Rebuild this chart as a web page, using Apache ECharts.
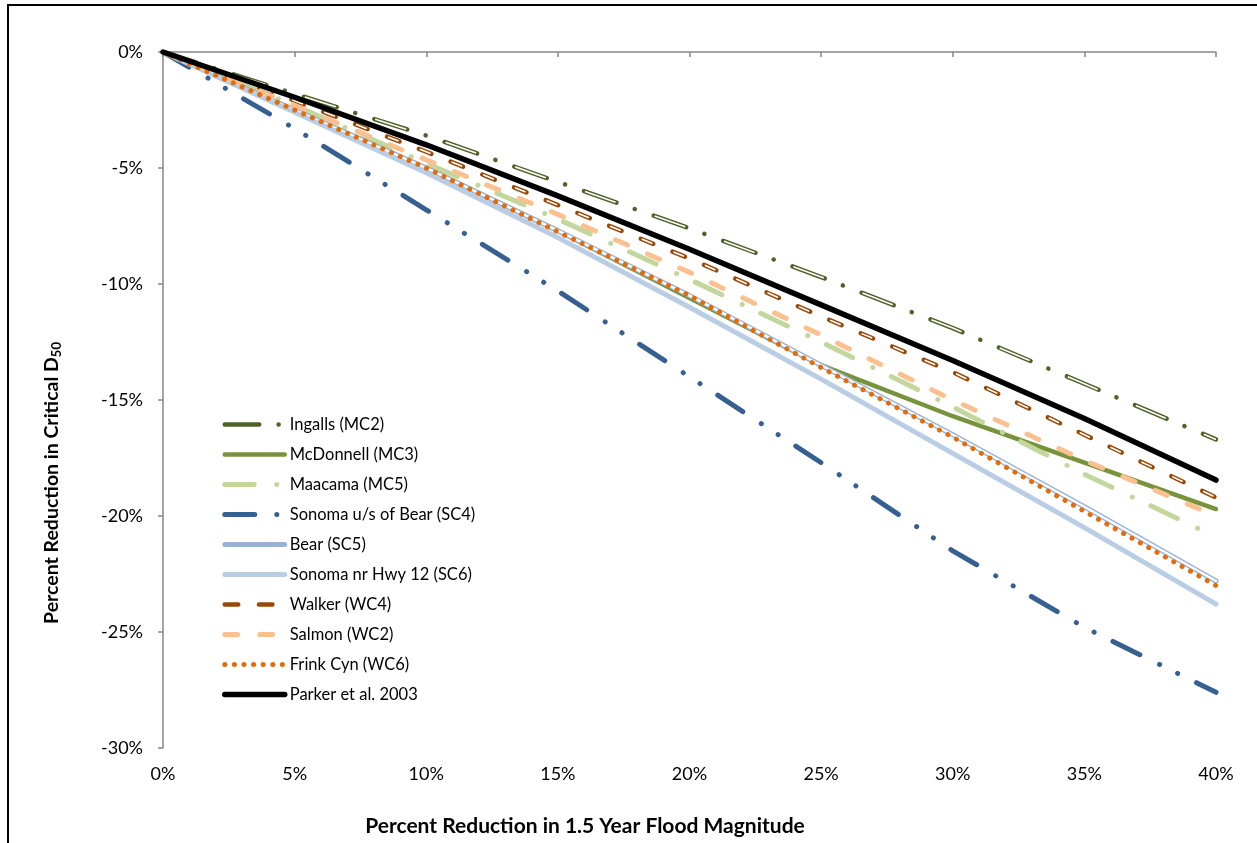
<!DOCTYPE html>
<html>
<head>
<meta charset="utf-8">
<script src="https://cdn.jsdelivr.net/npm/echarts@6/dist/echarts.min.js"></script>
<style>
html,body{margin:0;padding:0;background:#fff;}
#chart{width:1257px;height:843px;}
</style>
</head>
<body>
<div id="chart"></div>
<script>
// ---- Data ----
const xValues = [0, 5, 10, 15, 20, 25, 30, 35, 40];
const ingalls    = [0, -1.8, -3.6, -5.6, -7.6, -9.7, -11.9, -14.3, -16.7];
const mcdonnell  = [0, -2.5, -5.0, -7.7, -10.6, -13.5, -15.7, -17.7, -19.7];
const maacama    = [0, -2.3, -4.8, -7.2, -9.8, -12.5, -15.3, -18.2, -20.9];
const sonomaUs   = [0, -3.3, -6.8, -10.3, -14.0, -17.7, -21.5, -24.8, -27.6];
const bear       = [0, -2.5, -5.0, -7.7, -10.5, -13.5, -16.5, -19.6, -22.8];
const sonomaHwy  = [0, -2.6, -5.2, -8.0, -11.0, -14.1, -17.3, -20.5, -23.8];
const walker     = [0, -2.1, -4.3, -6.6, -8.9, -11.4, -13.8, -16.5, -19.2];
const salmon     = [0, -2.3, -4.65, -7.0, -9.5, -12.2, -15.0, -17.6, -20.0];
const frink      = [0, -2.5, -5.0, -7.75, -10.5, -13.6, -16.6, -19.8, -23.0];
const parker     = [0, -1.95, -4.0, -6.2, -8.5, -10.9, -13.3, -15.8, -18.45];
const seriesNames = ['Ingalls (MC2)', 'McDonnell (MC3)', 'Maacama (MC5)', 'Sonoma u/s of Bear (SC4)',
  'Bear (SC5)', 'Sonoma nr Hwy 12 (SC6)', 'Walker (WC4)', 'Salmon (WC2)', 'Frink Cyn (WC6)', 'Parker et al. 2003'];
const xTicks = [0, 5, 10, 15, 20, 25, 30, 35, 40];
const yTicks = [0, -5, -10, -15, -20, -25, -30];

const FONT = 'Lato, "Open Sans", sans-serif';
function pts(vals) { return xValues.map((x, i) => [x, vals[i]]); }
function line(name, vals, ls, z) {
  return {
    name: name, type: 'line', data: pts(vals), symbol: 'none', z: z,
    lineStyle: Object.assign({ cap: 'round', join: 'round' }, ls),
    itemStyle: { color: ls.color },
    emphasis: { disabled: true }, silent: true, animation: false
  };
}

const series = [
  line(seriesNames[0], ingalls, { color: '#4F6228', width: 4.5, type: [34.5, 19.3, 0.1, 20] }, 2),
  line('_ingIn', ingalls, { color: '#ffffff', width: 1.6, type: [32.5, 41.4], dashOffset: -1, cap: 'butt' }, 2),
  line(seriesNames[1], mcdonnell, { color: '#77933C', width: 4.5 }, 2),
  line(seriesNames[2], maacama, { color: '#C3D69B', width: 5, type: [29.4, 22.5, 0.1, 20.5] }, 2),
  line(seriesNames[3], sonomaUs, { color: '#376092', width: 5, type: [30, 22, 0.1, 20, 0.1, 21] }, 2),
  line(seriesNames[4], bear, { color: '#95B3D7', width: 5 }, 2),
  line('_bearIn', bear, { color: '#ffffff', width: 2.4 }, 2),
  line(seriesNames[5], sonomaHwy, { color: '#B9CDE5', width: 5 }, 2),
  line(seriesNames[6], walker, { color: '#984807', width: 4.5, type: [13.5, 20.7] }, 2),
  line('_walkIn', walker, { color: '#ffffff', width: 1.6, type: [11.5, 22.7], dashOffset: -1, cap: 'butt' }, 2),
  line(seriesNames[7], salmon, { color: '#FAC090', width: 5, type: [13, 22] }, 2),
  line(seriesNames[8], frink, { color: '#E46C0A', width: 5, type: [0.1, 9.5] }, 2),
  line(seriesNames[9], parker, { color: '#000000', width: 5.5 }, 2)
];

const chart = echarts.init(document.getElementById('chart'), null, { renderer: 'canvas' });
chart.setOption({
  animation: false,
  backgroundColor: '#ffffff',
  grid: { left: 163, top: 52, right: 41, bottom: 95, containLabel: false },
  xAxis: {
    type: 'value', min: 0, max: 40, interval: 5,
    axisLine: { show: true, lineStyle: { color: '#868686', width: 1.5 } },
    axisTick: { show: true, inside: false, length: 5, lineStyle: { color: '#868686', width: 1.5 } },
    splitLine: { show: false },
    axisLabel: { margin: 17, fontSize: 18, color: '#000', fontFamily: FONT,
      formatter: v => xTicks.indexOf(v) >= 0 ? v + '%' : '' }
  },
  yAxis: {
    type: 'value', min: -30, max: 0, interval: 5,
    axisLine: { show: true, lineStyle: { color: '#868686', width: 1.5 } },
    axisTick: { show: true, inside: false, length: 5, lineStyle: { color: '#868686', width: 1.5 } },
    splitLine: { show: false },
    axisLabel: { margin: 20, fontSize: 18, color: '#000', fontFamily: FONT,
      formatter: v => yTicks.indexOf(v) >= 0 ? v + '%' : '' }
  },
  legend: {
    orient: 'vertical', left: 217, top: 411,
    itemWidth: 60, itemHeight: 20, itemGap: 13,
    textStyle: { fontSize: 16.5, color: '#000', fontFamily: FONT },
    itemStyle: { opacity: 0 },
    lineStyle: { width: 'inherit' },
    data: seriesNames,
    selectedMode: false
  },
  graphic: [
    { type: 'rect', shape: { x: 8, y: 5, width: 1400, height: 1000 }, style: { fill: 'none', stroke: '#000', lineWidth: 2 }, silent: true, z: -1 },
    { type: 'text', x: 585, y: 826, silent: true,
      style: { text: 'Percent Reduction in 1.5 Year Flood Magnitude', fontSize: 21, fontWeight: 'bold', fontFamily: FONT, fill: '#000', textAlign: 'center', textVerticalAlign: 'middle' } },
    { type: 'text', x: 52, y: 483, rotation: Math.PI / 2, silent: true,
      style: { text: '{a|Percent Reduction in Critical D}{s|50}', fill: '#000', textAlign: 'center', textVerticalAlign: 'middle',
        rich: { a: { fontSize: 19.5, fontWeight: 'bold', fontFamily: FONT, fill: '#000' },
                s: { fontSize: 13, fontWeight: 'bold', fontFamily: FONT, fill: '#000', padding: [9, 0, 0, 0] } } } }
  ],
  series: series
});
</script>
</body>
</html>
